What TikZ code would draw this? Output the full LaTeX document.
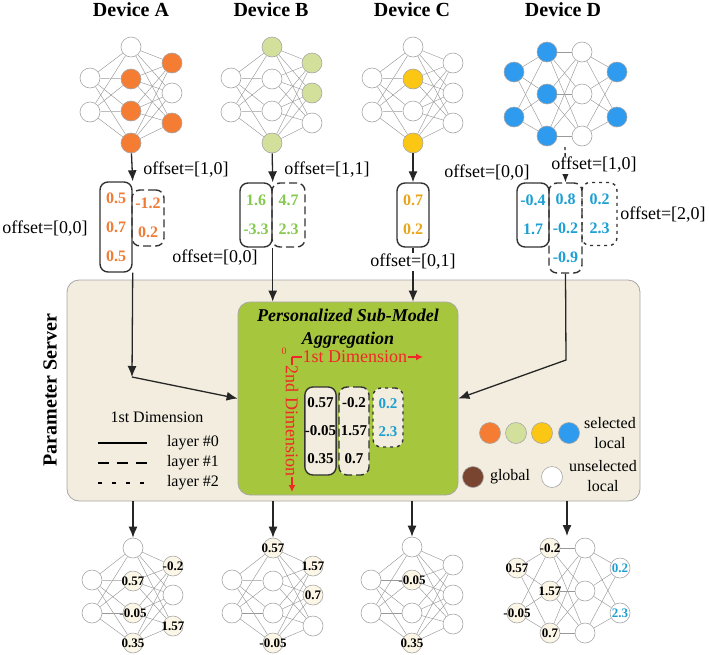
\documentclass[tikz,border=0pt]{standalone}
\usepackage{fontspec}
\setmainfont{Liberation Serif}
\usetikzlibrary{arrows.meta}

\definecolor{devOrange}{HTML}{F57D33}
\definecolor{devGreen}{HTML}{D3E09B}
\definecolor{devYellow}{HTML}{FBC614}
\definecolor{devBlue}{HTML}{2E9BEF}
\definecolor{valOrange}{HTML}{F07B35}
\definecolor{valGreen}{HTML}{86C94F}
\definecolor{valYellow}{HTML}{E9A51A}
\definecolor{valBlue}{HTML}{1C9FD3}
\definecolor{serverBg}{HTML}{F2EDDE}
\definecolor{aggGreen}{HTML}{A6C73D}
\definecolor{labelBg}{HTML}{FCF6E6}
\definecolor{globalBrown}{HTML}{7A4530}
\definecolor{axisRed}{HTML}{F02828}

\tikzset{
  neuron/.style={circle, draw=gray!70, line width=0.6pt, minimum size=20pt, inner sep=0pt, fill=white},
  wire/.style={draw=gray!80, line width=0.45pt},
  vlab/.style={font=\bfseries\fontsize{13}{13}\selectfont, inner sep=0pt},
  devtitle/.style={font=\bfseries\fontsize{20}{20}\selectfont},
  offlab/.style={font=\fontsize{18}{18}\selectfont, inner sep=1pt},
  legtxt/.style={font=\fontsize{16}{20}\selectfont, align=center, inner sep=1pt},
  vbox/.style={rounded corners=8pt, line width=1.4pt, draw=black!80, inner sep=0pt, align=center,
    font=\bfseries\fontsize{16}{29}\selectfont},
  aggbox/.style={vbox, fill=serverBg, font=\bfseries\fontsize{15}{28}\selectfont},
  lay1dash/.style={dash pattern=on 8pt off 4pt},
  lay2dash/.style={dash pattern=on 3pt off 4pt},
  flow/.style={-{Latex[length=11pt,width=9pt]}, line width=1.3pt, black!85},
  axis/.style={-{Latex[length=7pt,width=7pt]}, line width=1.2pt, axisRed},
  axlab/.style={text=axisRed, font=\fontsize{18}{18}\selectfont, fill=aggGreen, inner sep=0.5pt},
}

\begin{document}
\begin{tikzpicture}[x=1pt,y=-1pt]
\useasboundingbox (0,0) rectangle (709,654);

\node[devtitle] (titA) at (131,10) {Device A};
\node[devtitle] (titB) at (271,10) {Device B};
\node[devtitle] (titC) at (412,10) {Device C};
\node[devtitle] (titD) at (563,10) {Device D};

\foreach \y [count=\i] in {78,112}
  \node[neuron] (ta0\i) at (90,\y) {};
\foreach \y/\c [count=\i] in {47/white,79/devOrange,111/devOrange,143/devOrange}
  \node[neuron,fill=\c] (ta1\i) at (131,\y) {};
\foreach \y/\c [count=\i] in {63/devOrange,93/white,123/devOrange}
  \node[neuron,fill=\c] (ta2\i) at (172,\y) {};
\foreach \i in {1,2} \foreach \j in {1,...,4} \draw[wire] (ta0\i) -- (ta1\j);
\foreach \i in {1,...,4} \foreach \j in {1,2,3} \draw[wire] (ta1\i) -- (ta2\j);

\foreach \y [count=\i] in {78,112}
  \node[neuron] (tb0\i) at (231,\y) {};
\foreach \y/\c [count=\i] in {47/devGreen,79/white,111/white,143/devGreen}
  \node[neuron,fill=\c] (tb1\i) at (272,\y) {};
\foreach \y/\c [count=\i] in {63/devGreen,93/devGreen,123/white}
  \node[neuron,fill=\c] (tb2\i) at (312,\y) {};
\foreach \i in {1,2} \foreach \j in {1,...,4} \draw[wire] (tb0\i) -- (tb1\j);
\foreach \i in {1,...,4} \foreach \j in {1,2,3} \draw[wire] (tb1\i) -- (tb2\j);

\foreach \y [count=\i] in {78,112}
  \node[neuron] (tc0\i) at (372,\y) {};
\foreach \y/\c [count=\i] in {47/white,79/devYellow,111/white,143/devYellow}
  \node[neuron,fill=\c] (tc1\i) at (413,\y) {};
\foreach \y [count=\i] in {63,93,123}
  \node[neuron] (tc2\i) at (453,\y) {};
\foreach \i in {1,2} \foreach \j in {1,...,4} \draw[wire] (tc0\i) -- (tc1\j);
\foreach \i in {1,...,4} \foreach \j in {1,2,3} \draw[wire] (tc1\i) -- (tc2\j);

\foreach \y [count=\i] in {72,117}
  \node[neuron,fill=devBlue] (td0\i) at (514,\y) {};
\foreach \y [count=\i] in {52,94,136}
  \node[neuron,fill=devBlue] (td1\i) at (547,\y) {};
\foreach \y [count=\i] in {52,94,136}
  \node[neuron] (td2\i) at (582,\y) {};
\foreach \y [count=\i] in {72,117}
  \node[neuron,fill=devBlue] (td3\i) at (617,\y) {};
\foreach \i in {1,2} \foreach \j in {1,2,3} \draw[wire] (td0\i) -- (td1\j);
\foreach \i in {1,2,3} \foreach \j in {1,2,3} \draw[wire] (td1\i) -- (td2\j);
\foreach \i in {1,2,3} \foreach \j in {1,2} \draw[wire] (td2\i) -- (td3\j);

\node[vbox, minimum width=32pt, minimum height=90pt, text=valOrange] (taL0) at (116,227) {0.5\\0.7\\0.5};
\node[vbox, lay1dash, minimum width=32pt, minimum height=56pt, text=valOrange] (taL1) at (148,218) {-1.2\\0.2};
\node[vbox, minimum width=32pt, minimum height=64pt, text=valGreen] (tbL0) at (256,215) {1.6\\-3.3};
\node[vbox, lay1dash, minimum width=33pt, minimum height=64pt, text=valGreen] (tbL1) at (288.5,215) {4.7\\2.3};
\node[vbox, minimum width=32pt, minimum height=64pt, text=valYellow] (tcL0) at (413,215) {0.7\\0.2};
\node[vbox, minimum width=32pt, minimum height=64pt, text=valBlue] (tdL0) at (533,215) {-0.4\\1.7};
\node[vbox, lay1dash, minimum width=33pt, minimum height=90pt, text=valBlue] (tdL1) at (565.5,228) {0.8\\-0.2\\-0.9};
\node[vbox, lay2dash, minimum width=35pt, minimum height=63pt, text=valBlue] (tdL2) at (599.5,214) {0.2\\2.3};

\draw[flow] (ta14) -- (taL0.north east);
\draw[flow] (tb14) -- (tbL0.north east);
\draw[flow] (tc14) -- (tcL0);
\coordinate (dTop) at (565,147);
\draw[flow, dashed] (dTop) -- (tdL1.north);

\node[offlab] (offA1) at (186,170) {offset=[1,0]};
\node[offlab] (offA0) at (45,229) {offset=[0,0]};
\node[offlab] (offB1) at (327,170) {offset=[1,1]};
\node[offlab] (offB0) at (215,258) {offset=[0,0]};
\node[offlab] (offD0) at (487,173) {offset=[0,0]};
\node[offlab, fill=white] (offD1) at (594,165) {offset=[1,0]};
\node[offlab] (offD2) at (663,215) {offset=[2,0]};

\node[rounded corners=12pt, draw=gray!70, line width=0.8pt, fill=serverBg, minimum width=573pt, minimum height=221pt] (srv) at (353.5,390.5) {};
\node[rounded corners=12pt, draw=gray!70, line width=0.8pt, fill=aggGreen, minimum width=220pt, minimum height=193pt] (agg) at (348,398.5) {};
\node[rotate=90, font=\bfseries\fontsize{20}{20}\selectfont] (srvTitle) at (50,390) {Parameter Server};
\node[align=center, font=\bfseries\itshape\fontsize{18}{23}\selectfont] (aggTitle) at (348,328.5) {Personalized Sub-Model\\Aggregation};

\draw[flow] (tcL0) -- (tcL0 |- agg.north);
\node[offlab, fill=white] (offC1) at (413,262) {offset=[0,1]};

\coordinate (aBend) at (132,377);
\draw[flow] (taL0.south east) -- (aBend);
\draw[flow] (aBend) -- (agg.west);
\draw[flow] (tbL0.south east) -- (tbL0.south east |- agg.north);
\coordinate (dBend) at (566,360);
\draw[flow] (tdL1.south) -- (dBend) -- (agg.east);

\coordinate (orig) at (292,357);
\coordinate (dimEnd1) at (423,357);
\coordinate (dimEnd2) at (292,492);
\node[text=axisRed, font=\fontsize{10}{10}\selectfont] (zero) at (284,351) {0};
\draw[axis] (orig) -- (dimEnd1) node[axlab, pos=0.48] (dim1) {1st Dimension};
\draw[axis] (orig) -- (dimEnd2) node[axlab, pos=0.474, rotate=-90] (dim2) {2nd Dimension};

\node[aggbox, minimum width=31pt, minimum height=88pt] (gL0) at (320.5,431) {0.57\\-0.05\\0.35};
\node[aggbox, lay1dash, minimum width=30pt, minimum height=88pt] (gL1) at (354,431) {-0.2\\1.57\\0.7};
\node[aggbox, lay2dash, minimum width=30pt, minimum height=59pt, text=valBlue] (gL2) at (388,417.5) {0.2\\2.3};

\node[legtxt] (dimTxt) at (157,417) {1st Dimension};
\node[legtxt] (lay0) at (193,443) {layer \#0};
\node[legtxt] (lay1) at (193,463) {layer \#1};
\node[legtxt] (lay2) at (193,483) {layer \#2};
\draw[line width=1.4pt] (98,443) -- (147,443);
\draw[line width=1.4pt, dash pattern=on 11pt off 8pt] (98,463) -- (147,463);
\draw[line width=1.4pt, dash pattern=on 4pt off 10pt] (98,483) -- (147,483);

\foreach \x/\c [count=\i] in {490/devOrange,516/devGreen,542/devYellow,569/devBlue}
  \node[neuron, fill=\c, minimum size=21pt] (sel\i) at (\x,433) {};
\node[legtxt] (selTxt) at (610,433) {selected\\local};
\node[neuron, fill=globalBrown, minimum size=21pt] (glob) at (473,477) {};
\node[legtxt] (globTxt) at (510,477) {global};
\node[neuron, minimum size=21pt] (unsel) at (552,477) {};
\node[legtxt] (unselTxt) at (603,476) {unselected\\local};

\foreach \y [count=\i] in {580,613}
  \node[neuron] (ba0\i) at (92,\y) {};
\foreach \y/\c/\lab [count=\i] in {548/white/{},581/labelBg/0.57,613/labelBg/-0.05,643/labelBg/0.35}
  \node[neuron,fill=\c,label={[vlab]center:\lab}] (ba1\i) at (133,\y) {};
\foreach \y/\c/\lab [count=\i] in {566/labelBg/-0.2,595/white/{},626/labelBg/1.57}
  \node[neuron,fill=\c,label={[vlab]center:\lab}] (ba2\i) at (173,\y) {};
\foreach \i in {1,2} \foreach \j in {1,...,4} \draw[wire] (ba0\i) -- (ba1\j);
\foreach \i in {1,...,4} \foreach \j in {1,2,3} \draw[wire] (ba1\i) -- (ba2\j);

\foreach \y [count=\i] in {580,613}
  \node[neuron] (bb0\i) at (232,\y) {};
\foreach \y/\c/\lab [count=\i] in {548/labelBg/0.57,581/white/{},613/white/{},643/labelBg/-0.05}
  \node[neuron,fill=\c,label={[vlab]center:\lab}] (bb1\i) at (273,\y) {};
\foreach \y/\c/\lab [count=\i] in {566/labelBg/1.57,595/labelBg/0.7,626/white/{}}
  \node[neuron,fill=\c,label={[vlab]center:\lab}] (bb2\i) at (313,\y) {};
\foreach \i in {1,2} \foreach \j in {1,...,4} \draw[wire] (bb0\i) -- (bb1\j);
\foreach \i in {1,...,4} \foreach \j in {1,2,3} \draw[wire] (bb1\i) -- (bb2\j);

\foreach \y [count=\i] in {580,613}
  \node[neuron] (bc0\i) at (371,\y) {};
\foreach \y/\c/\lab [count=\i] in {547/white/{},580/labelBg/-0.05,613/white/{},643/labelBg/0.35}
  \node[neuron,fill=\c,label={[vlab]center:\lab}] (bc1\i) at (412,\y) {};
\foreach \y [count=\i] in {565,595,624}
  \node[neuron] (bc2\i) at (453,\y) {};
\foreach \i in {1,2} \foreach \j in {1,...,4} \draw[wire] (bc0\i) -- (bc1\j);
\foreach \i in {1,...,4} \foreach \j in {1,2,3} \draw[wire] (bc1\i) -- (bc2\j);

\foreach \y/\lab [count=\i] in {568/0.57,613/-0.05}
  \node[neuron,fill=labelBg,label={[vlab]center:\lab}] (bd0\i) at (517,\y) {};
\foreach \y/\lab [count=\i] in {548/-0.2,591/1.57,633/0.7}
  \node[neuron,fill=labelBg,label={[vlab]center:\lab}] (bd1\i) at (550,\y) {};
\foreach \y [count=\i] in {548,591,633}
  \node[neuron] (bd2\i) at (585,\y) {};
\foreach \y/\lab [count=\i] in {568/0.2,613/2.3}
  \node[neuron,label={[vlab,text=valBlue]center:\lab}] (bd3\i) at (620,\y) {};
\foreach \i in {1,2} \foreach \j in {1,2,3} \draw[wire] (bd0\i) -- (bd1\j);
\foreach \i in {1,2,3} \foreach \j in {1,2,3} \draw[wire] (bd1\i) -- (bd2\j);
\foreach \i in {1,2,3} \foreach \j in {1,2} \draw[wire] (bd2\i) -- (bd3\j);

\draw[flow] (srv.south -| ba11) -- (ba11);
\draw[flow] (srv.south -| bb11) -- (bb11);
\draw[flow] (srv.south -| bc11) -- (bc11);
\coordinate (dIn) at (567,536);
\draw[flow] (srv.south -| dIn) -- (dIn);

\end{tikzpicture}
\end{document}
